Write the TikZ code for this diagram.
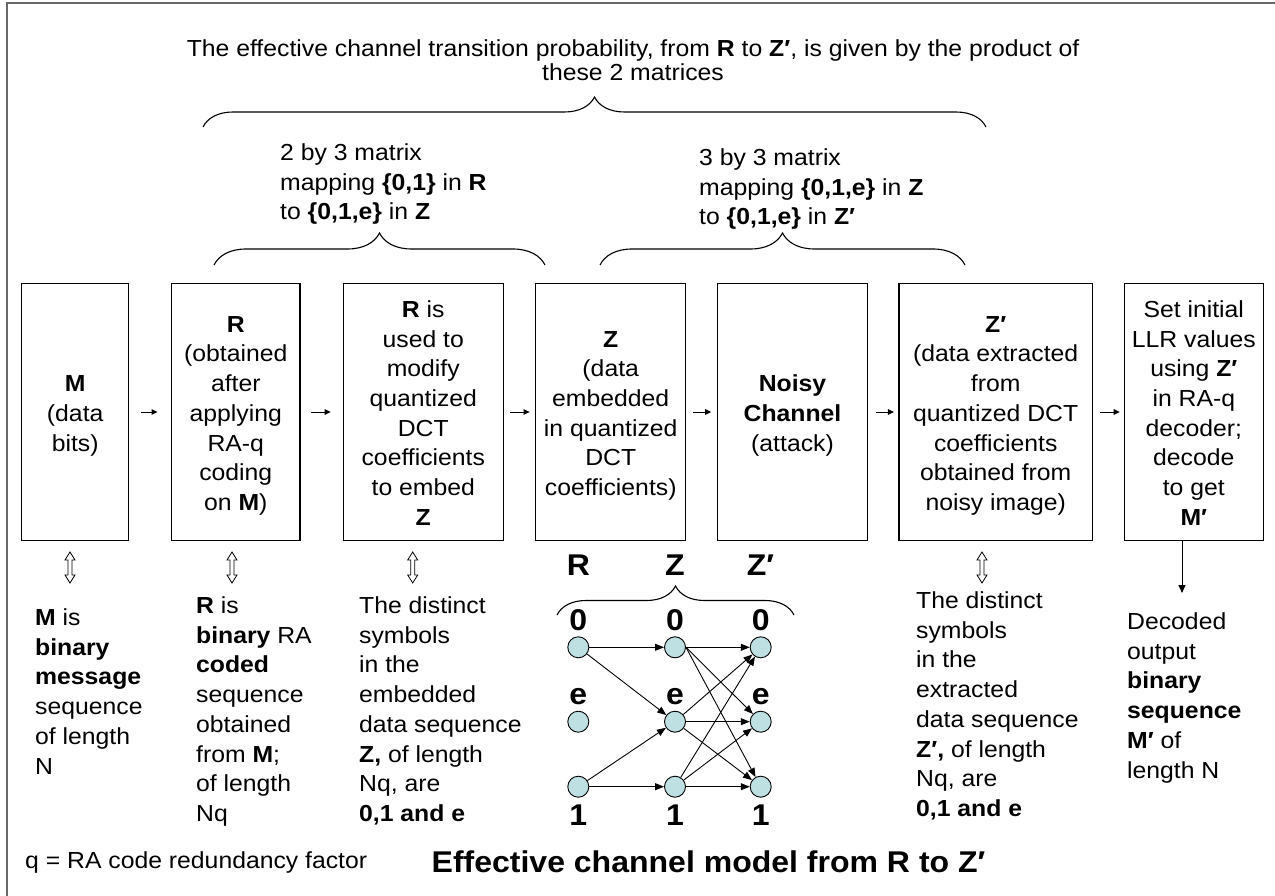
\documentclass[tikz,border=0pt]{standalone}
\usepackage{fontspec}
\setmainfont{Liberation Sans}[FakeStretch=1.067,Ligatures=NoCommon]
\usetikzlibrary{arrows.meta,decorations.pathreplacing,calc}
\definecolor{nodefill}{RGB}{190,224,226}
\definecolor{framegray}{RGB}{105,105,105}
\newcommand\topS{\rule{0pt}{23.6pt}}
\newcommand\botS{\rule[-5pt]{0pt}{5pt}}
\newcommand\firstln{\rule{0pt}{21pt}}
\newcommand\hollowud[1]{\draw[line width=0.8pt, fill=white] (#1,552) -- ++(5,8) -- ++(-3,0) -- ++(0,15) -- ++(3,0) -- ++(-5,8) -- ++(-5,-8) -- ++(3,0) -- ++(0,-15) -- ++(-3,0) -- cycle;}
\begin{document}
\begin{tikzpicture}[x=1pt,y=-1pt,
  txt/.style={inner sep=0pt, font=\fontsize{23.2}{29.7}\selectfont},
  box/.style={draw, line width=1.2pt, inner sep=0pt, align=center, minimum height=257.4pt, font=\fontsize{23.2}{29.7}\selectfont},
  sarr/.style={line width=1pt, -{Triangle[length=6pt,width=5.5pt]}},
  gnode/.style={circle, draw, line width=0.9pt, fill=nodefill, minimum size=21pt, inner sep=0pt},
  glab/.style={inner sep=0pt, font=\fontsize{30}{30}\selectfont\bfseries},
  gedge/.style={line width=0.9pt, -{Triangle[length=9pt,width=7pt]}},
  brc/.style={decorate, line width=1.1pt}
]
\useasboundingbox (0,0) rectangle (1275,896);
% frame
\draw[framegray, line width=1.8pt] (7,896) -- (7,3) -- (1275,3);

% top texts
\node[txt, anchor=north, align=center, font=\fontsize{23.2}{24.5}\selectfont] (title) at (633,35)
  {\firstln The effective channel transition probability, from \textbf{R} to \textbf{Z′}, is given by the product of\\these 2 matrices};
\draw[brc, decoration={brace, amplitude=30pt}] (203,127) -- (986,127);
\node[txt, anchor=north west, align=left] (m23) at (280,139.3)
  {\firstln 2 by 3 matrix\\mapping \textbf{\{0,1\}} in \textbf{R}\\to \textbf{\{0,1,e\}} in \textbf{Z}};
\node[txt, anchor=north west, align=left] (m33) at (699,144.3)
  {\firstln 3 by 3 matrix\\mapping \textbf{\{0,1,e\}} in \textbf{Z}\\to \textbf{\{0,1,e\}} in \textbf{Z′}};
\draw[brc, decoration={brace, amplitude=32pt}] (214,265) -- (545,265);
\draw[brc, decoration={brace, amplitude=32pt}] (600,265) -- (965,265);

% boxes
\node[box, minimum width=107pt] (bM) at (75.2,412) {\topS\textbf{M}\\(data\\bits)\botS};
\node[box, minimum width=128.3pt] (bR) at (235.8,412) {\topS\textbf{R}\\(obtained\\after\\applying\\RA-q\\coding\\on \textbf{M})\botS};
\node[box, minimum width=160pt] (bRis) at (423.3,412) {\topS\textbf{R} is\\used to\\modify\\quantized\\DCT\\coefficients\\to embed\\\textbf{Z}\botS};
\node[box, minimum width=150pt] (bZ) at (610.7,412) {\topS\textbf{Z}\\(data\\embedded\\in quantized\\DCT\\coefficients)\botS};
\node[box, minimum width=150.4pt] (bN) at (792.5,412) {\topS\textbf{Noisy}\\\textbf{Channel}\\(attack)\botS};
\node[box, minimum width=193.3pt] (bZp) at (995.7,412) {\topS\textbf{Z′}\\(data extracted\\from\\quantized DCT\\coefficients\\obtained from\\noisy image)\botS};
\node[box, minimum width=139pt] (bS) at (1193.8,412) {\topS Set initial\\LLR values\\using \textbf{Z′}\\in RA-q\\decoder;\\decode\\to get\\\textbf{M′}\botS};

\draw[sarr, shorten <=11.5pt, shorten >=13.5pt] (bM) -- (bR);
\draw[sarr, shorten <=10pt, shorten >=12pt] (bR) -- (bRis);
\draw[sarr, shorten <=6.5pt, shorten >=5.5pt] (bRis) -- (bZ);
\draw[sarr, shorten <=6.5pt, shorten >=5.5pt] (bZ) -- (bN);
\draw[sarr, shorten <=7.5pt, shorten >=4.5pt] (bN) -- (bZp);
\draw[sarr, shorten <=7pt, shorten >=4pt] (bZp) -- (bS);

% double arrows
\hollowud{70}
\hollowud{232}
\hollowud{412.7}
\hollowud{982}

% down arrow
\coordinate (dEnd) at (1182,593);
\draw[line width=1pt, -{Triangle[length=8pt,width=7pt]}] (bS.south -| dEnd) -- (dEnd);

% texts below
\node[txt, anchor=north west, align=left] (tM) at (35,604.3)
  {\firstln\textbf{M} is\\\textbf{binary}\\\textbf{message}\\sequence\\of length\\N};
\node[txt, anchor=north west, align=left] (tR) at (196,592.3)
  {\firstln\textbf{R} is\\\textbf{binary} RA\\\textbf{coded}\\sequence\\obtained\\from \textbf{M};\\of length\\Nq};
\node[txt, anchor=north west, align=left] (tRis) at (359,592.3)
  {\firstln The distinct\\symbols\\in the\\embedded\\data sequence\\\textbf{Z,} of length\\Nq, are\\\textbf{0,1 and e}};
\node[txt, anchor=north west, align=left] (tZp) at (916,587.3)
  {\firstln The distinct\\symbols\\in the\\extracted\\data sequence\\\textbf{Z′,} of length\\Nq, are\\\textbf{0,1 and e}};
\node[txt, anchor=north west, align=left] (tDec) at (1127,608.3)
  {\firstln Decoded\\output\\\textbf{binary}\\\textbf{sequence}\\\textbf{M′} of\\length N};

% channel graph
\node[glab] (lR) at (578.5,565) {R};
\node[glab] (lZ) at (675,565) {Z};
\node[glab] (lZp) at (760.5,565) {Z′};
\draw[brc, decoration={brace, amplitude=29pt}] (557,615) -- (794,615);

\node[gnode] (r0) at (578.3,647.3) {};
\node[gnode] (re) at (578.3,721.7) {};
\node[gnode] (r1) at (578.3,786.7) {};
\node[gnode] (z0) at (675,647.3) {};
\node[gnode] (ze) at (675,721.7) {};
\node[gnode] (z1) at (675,786.7) {};
\node[gnode] (p0) at (760.7,647.3) {};
\node[gnode] (pe) at (760.7,721.7) {};
\node[gnode] (p1) at (760.7,786.7) {};

\foreach \c/\x in {r/578.3, z/675, p/760.7}{
  \node[glab] (\c l0) at (\x,620) {0};
  \node[glab] (\c le) at (\x,697) {e};
  \node[glab] (\c l1) at (\x,815) {1};
}

\draw[gedge] (r0) -- (z0);
\draw[gedge] (r0) -- (ze);
\draw[gedge] (r1) -- (ze);
\draw[gedge] (r1) -- (z1);
\draw[gedge] (z0) -- (p0);
\draw[gedge] (z0.east) -- (pe);
\draw[gedge] (z0.east) -- (p1);
\draw[gedge] (ze) -- (p0);
\draw[gedge] (ze) -- (pe);
\draw[gedge] (ze) -- (p1);
\draw[gedge] (z1) -- (p0);
\draw[gedge] (z1) -- (pe);
\draw[gedge] (z1) -- (p1);

% bottom
\node[txt, anchor=north west] (qnote) at (25,847.3) {\firstln q = RA code redundancy factor};
\node[inner sep=0pt, font=\fontsize{30}{30}\selectfont\bfseries] (btitle) at (708.5,862) {Effective channel model from R to Z′};
\end{tikzpicture}
\end{document}
